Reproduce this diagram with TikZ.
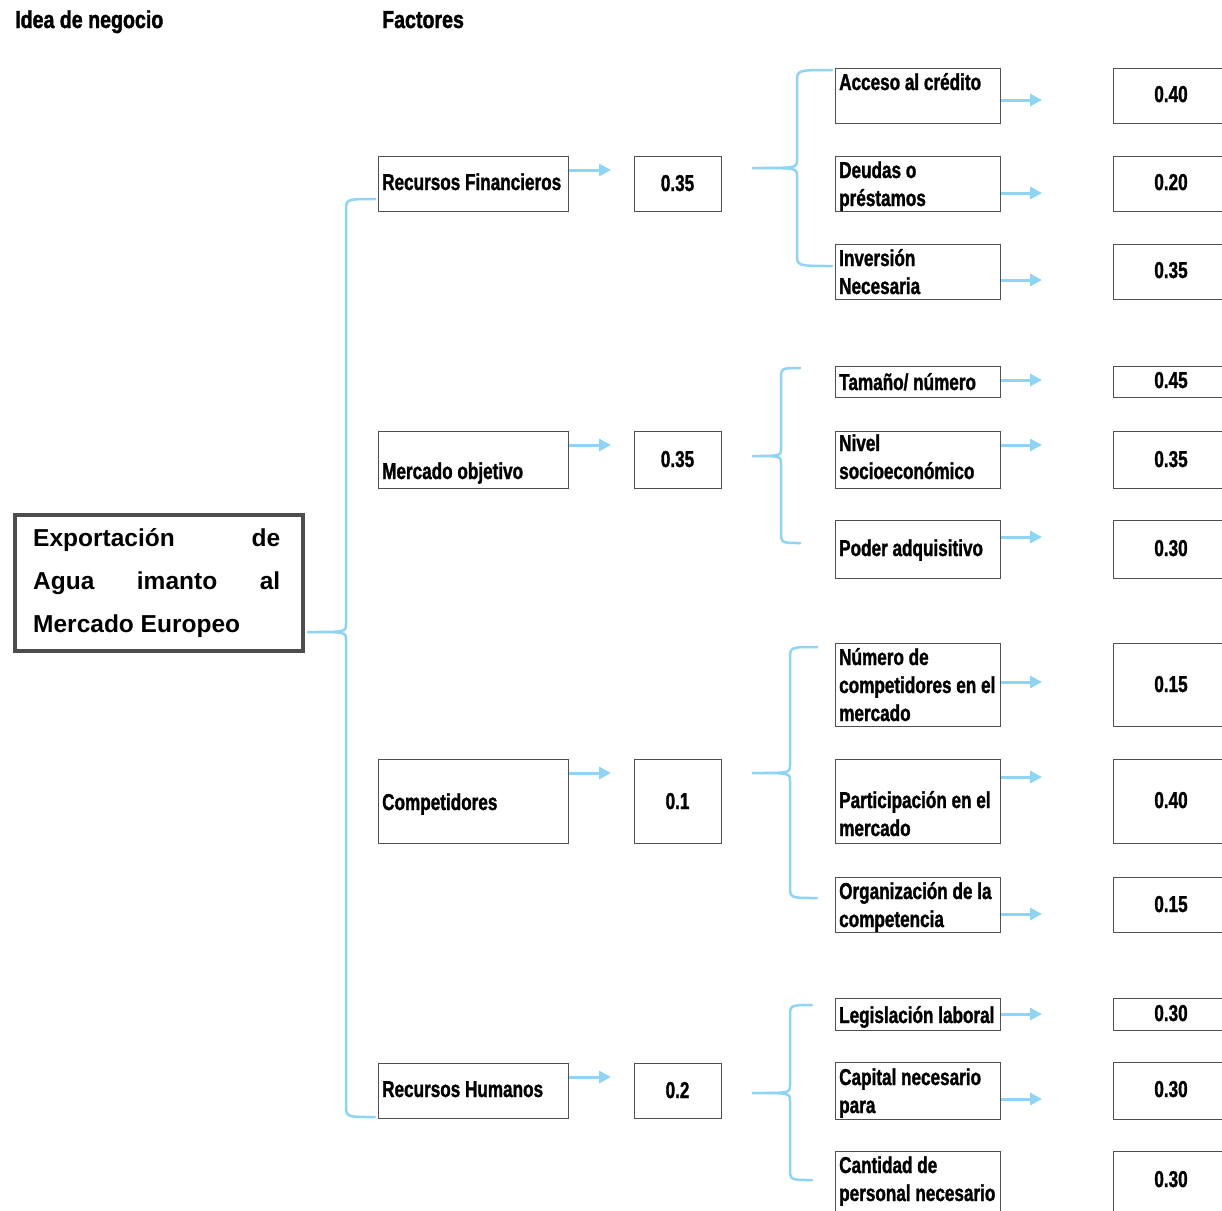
\documentclass[tikz,border=0pt]{standalone}
\usepackage{fontspec}
\setmainfont{Liberation Sans}
\newfontfamily\narrowfont[FakeStretch=0.745, BoldFeatures={FakeBold=1.3}]{Liberation Sans}
\newfontfamily\headfont[FakeStretch=0.8, BoldFeatures={FakeBold=1.6}]{Liberation Sans}
\usetikzlibrary{arrows.meta}
\definecolor{linkblue}{RGB}{142,212,245}
\definecolor{frame}{RGB}{80,80,80}
\definecolor{mainframe}{RGB}{77,77,77}
\newcommand\lines[1]{\begin{tabular}[t]{@{}l@{}}#1\end{tabular}}
% curly brace: vertical x, top y, tip x, tip y, bottom y, end x
\newcommand\curlybrace[6]{%
  \draw[brace] (#6,#2) .. controls (#1,#2) .. (#1,#2+12) -- (#1,#4-8)
    .. controls (#1,#4) .. (#3,#4) .. controls (#1,#4) .. (#1,#4+8)
    -- (#1,#5-12) .. controls (#1,#5) .. (#6,#5);}
\tikzset{
  box/.style={draw=frame, line width=1.3, anchor=north west, inner sep=0},
  factorbox/.style={box, minimum width=190, minimum height=#1},
  weightbox/.style={box, minimum width=87, minimum height=#1},
  subbox/.style={box, minimum width=165, minimum height=#1},
  subweight/.style={box, minimum width=118, minimum height=#1},
  txt/.style={font=\narrowfont\bfseries\fontsize{23}{28}\selectfont, inner sep=0, anchor=base west},
  val/.style={txt, anchor=base},
  head/.style={font=\headfont\bfseries\fontsize{24.5}{28}\selectfont, inner sep=0, anchor=base west},
  arr/.style={linkblue, line width=3, -{Triangle[length=12, width=12]}},
  brace/.style={linkblue, line width=2.5, line cap=round},
}
\begin{document}
\begin{tikzpicture}[x=1pt, y=-1pt]
\useasboundingbox (0,0) rectangle (1222,1210);
\clip (0,0) rectangle (1222,1210);
\fill[white] (0,0) rectangle (1222,1210);

% headings
\node[head] (h1) at (15,28) {Idea de negocio};
\node[head] (h2) at (382,28) {Factores};

% business idea
\node[box, draw=mainframe, line width=4.5, minimum width=288, minimum height=136] (idea) at (12.5,512.5) {};
\node[font=\bfseries\fontsize{24.5}{43}\selectfont, inner sep=0, anchor=base west] (ideatext) at (33,546)
  {\lines{\makebox[247pt][s]{Exportación de}\\\makebox[247pt][s]{Agua imanto al}\\Mercado Europeo}};

% factors
\node[factorbox=55] (rf) at (378,156) {};
\node[factorbox=57] (mo) at (378,431) {};
\node[factorbox=84] (co) at (378,759) {};
\node[factorbox=55] (rh) at (378,1063) {};
\node[txt] (rft) at (382,190) {Recursos Financieros};
\node[txt] (mot) at (382,479) {Mercado objetivo};
\node[txt] (cot) at (382,810) {Competidores};
\node[txt] (rht) at (382,1097) {Recursos Humanos};

% factor weights
\node[weightbox=55] (wrf) at (634,156) {};
\node[weightbox=57] (wmo) at (634,431) {};
\node[weightbox=84] (wco) at (634,759) {};
\node[weightbox=55] (wrh) at (634,1063) {};
\node[val] (wrft) at (677.5,191) {0.35};
\node[val] (wmot) at (677.5,467) {0.35};
\node[val] (wcot) at (677.5,809) {0.1};
\node[val] (wrht) at (677.5,1098) {0.2};

% factor arrows
\coordinate (arf) at (611,170);
\coordinate (amo) at (611,445);
\coordinate (aco) at (611,773);
\coordinate (arh) at (611,1077);
\draw[arr] (rf.east |- arf) -- (arf);
\draw[arr] (mo.east |- amo) -- (amo);
\draw[arr] (co.east |- aco) -- (aco);
\draw[arr] (rh.east |- arh) -- (arh);

% sub-factors
\node[subbox=55] (s1) at (835,68) {};
\node[subbox=55] (s2) at (835,156) {};
\node[subbox=55] (s3) at (835,244) {};
\node[subbox=31] (s4) at (835,366) {};
\node[subbox=57] (s5) at (835,431) {};
\node[subbox=58] (s6) at (835,520) {};
\node[subbox=83] (s7) at (835,643) {};
\node[subbox=84] (s8) at (835,759) {};
\node[subbox=55] (s9) at (835,877) {};
\node[subbox=32] (s10) at (835,998) {};
\node[subbox=57] (s11) at (835,1062) {};
\node[subbox=62] (s12) at (835,1151) {};

\node[txt] (s1t) at (839,90) {Acceso al crédito};
\node[txt] (s2t) at (839,178) {\lines{Deudas o\\préstamos}};
\node[txt] (s3t) at (839,266) {\lines{Inversión\\Necesaria}};
\node[txt] (s4t) at (839,390) {Tamaño/ número};
\node[txt] (s5t) at (839,451) {\lines{Nivel\\socioeconómico}};
\node[txt] (s6t) at (839,556) {Poder adquisitivo};
\node[txt] (s7t) at (839,665) {\lines{Número de\\competidores en el\\mercado}};
\node[txt] (s8t) at (839,808) {\lines{Participación en el\\mercado}};
\node[txt] (s9t) at (839,899) {\lines{Organización de la\\competencia}};
\node[txt] (s10t) at (839,1023) {Legislación laboral};
\node[txt] (s11t) at (839,1085) {\lines{Capital necesario\\para}};
\node[txt] (s12t) at (839,1173) {\lines{Cantidad de\\personal necesario}};

% sub-factor arrows
\foreach \n/\y in {1/100, 2/193, 3/280, 4/380, 5/445, 6/537, 7/682, 8/777, 9/914, 10/1014, 11/1099} {
  \coordinate (as\n) at (1042,\y);
  \draw[arr] (s\n.east |- as\n) -- (as\n);
}

% sub-factor weights
\node[subweight=55] (v1) at (1113,68) {};
\node[subweight=55] (v2) at (1113,156) {};
\node[subweight=55] (v3) at (1113,244) {};
\node[subweight=31] (v4) at (1113,366) {};
\node[subweight=57] (v5) at (1113,431) {};
\node[subweight=58] (v6) at (1113,520) {};
\node[subweight=83] (v7) at (1113,643) {};
\node[subweight=84] (v8) at (1113,759) {};
\node[subweight=55] (v9) at (1113,877) {};
\node[subweight=32] (v10) at (1113,998) {};
\node[subweight=57] (v11) at (1113,1062) {};
\node[subweight=62] (v12) at (1113,1151) {};
\node[val] (v1t) at (1171,102) {0.40};
\node[val] (v2t) at (1171,190) {0.20};
\node[val] (v3t) at (1171,278) {0.35};
\node[val] (v4t) at (1171,388) {0.45};
\node[val] (v5t) at (1171,467) {0.35};
\node[val] (v6t) at (1171,556) {0.30};
\node[val] (v7t) at (1171,692) {0.15};
\node[val] (v8t) at (1171,808) {0.40};
\node[val] (v9t) at (1171,912) {0.15};
\node[val] (v10t) at (1171,1021) {0.30};
\node[val] (v11t) at (1171,1097) {0.30};
\node[val] (v12t) at (1171,1187) {0.30};

% braces
\curlybrace{346}{199}{307}{632}{1117}{375}
\curlybrace{797}{70}{752}{168}{266}{832}
\curlybrace{781}{368}{752}{456}{543}{800}
\curlybrace{790}{647}{752}{773}{898}{817}
\curlybrace{790}{1005}{752}{1093}{1180}{812}
\end{tikzpicture}
\end{document}
